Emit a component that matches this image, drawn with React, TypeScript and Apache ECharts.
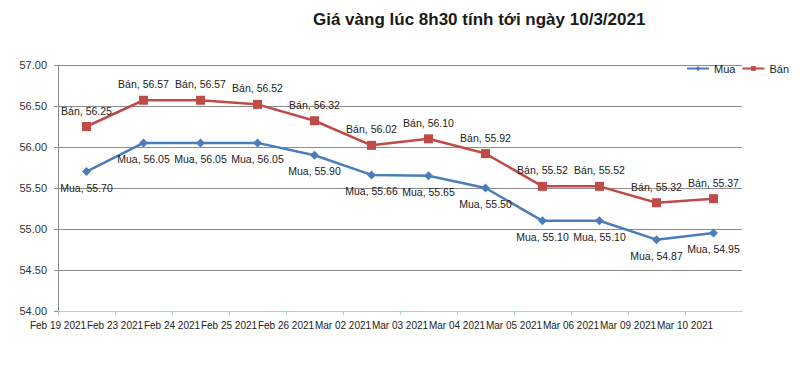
import React, { useEffect, useRef } from "react";
import * as echarts from "echarts";

const categories = [
  "Feb 19 2021", "Feb 23 2021", "Feb 24 2021", "Feb 25 2021", "Feb 26 2021", "Mar 02 2021",
  "Mar 03 2021", "Mar 04 2021", "Mar 05 2021", "Mar 06 2021", "Mar 09 2021", "Mar 10 2021",
];
const muaValues = [55.70, 56.05, 56.05, 56.05, 55.90, 55.66, 55.65, 55.50, 55.10, 55.10, 54.87, 54.95];
const banValues = [56.25, 56.57, 56.57, 56.52, 56.32, 56.02, 56.10, 55.92, 55.52, 55.52, 55.32, 55.37];
const yTicks = { min: 54, max: 57, interval: 0.5 };
const titleText = "Giá vàng lúc 8h30 tính tới ngày 10/3/2021";

const FONT = "Liberation Sans";

export default function App() {
  const ref = useRef<HTMLDivElement>(null);
  useEffect(() => {
    if (!ref.current) return;
    const chart = echarts.init(ref.current, undefined, { renderer: "svg" });
    const toPts = (arr: number[]) => arr.map((v, i) => [i + 0.5, v]);
    chart.setOption({
      animation: false,
      backgroundColor: "#ffffff",
      textStyle: { fontFamily: FONT },
      title: {
        text: titleText,
        left: 308,
        top: 6,
        textStyle: { fontFamily: FONT, fontSize: 17, fontWeight: "bold", color: "#1a1a1a" },
      },
      legend: {
        right: 6,
        top: 58,
        itemWidth: 22,
        itemHeight: 6,
        itemGap: 6,
        textStyle: { fontFamily: FONT, fontSize: 11, color: "#222" },
        data: ["Mua", "Bán"],
      },
      grid: { left: 58, right: 58, top: 65, bottom: 59 },
      xAxis: {
        type: "value",
        min: 0,
        max: categories.length,
        interval: 1,
        axisLine: { show: true, lineStyle: { color: "#9fd6df", width: 1 } },
        axisTick: { show: true, length: 4, lineStyle: { color: "#9fd6df" } },
        splitLine: { show: false },
        axisLabel: {
          margin: 9,
          fontFamily: FONT,
          fontSize: 10,
          color: "#222",
          showMinLabel: true,
          showMaxLabel: false,
          hideOverlap: false,
          formatter: (v: number) => categories[Math.round(v)] ?? "",
        },
      },
      yAxis: {
        type: "value",
        min: yTicks.min,
        max: yTicks.max,
        interval: yTicks.interval,
        axisLine: { show: true, lineStyle: { color: "#8c8c8c", width: 1 } },
        axisTick: { show: true, length: 4, lineStyle: { color: "#8c8c8c" } },
        splitLine: { show: true, lineStyle: { color: "#8c8c8c", width: 1 } },
        axisLabel: {
          margin: 11,
          fontFamily: FONT,
          fontSize: 11,
          color: "#333",
          formatter: (v: number) => v.toFixed(2),
        },
      },
      series: [
        {
          name: "Mua",
          type: "line",
          data: toPts(muaValues),
          symbol: "diamond",
          symbolSize: 9,
          color: "#4a7ebb",
          lineStyle: { width: 2.5, color: "#4a7ebb" },
          itemStyle: { color: "#4a7ebb" },
          label: {
            show: true,
            position: "bottom",
            distance: 6,
            fontFamily: FONT,
            fontSize: 10.5,
            color: "#222",
            formatter: (p: any) => `Mua, ${p.value[1].toFixed(2)}`,
          },
        },
        {
          name: "Bán",
          type: "line",
          data: toPts(banValues),
          symbol: "rect",
          symbolSize: 9,
          color: "#be4b48",
          lineStyle: { width: 2.5, color: "#be4b48" },
          itemStyle: { color: "#be4b48" },
          label: {
            show: true,
            position: "top",
            distance: 6,
            fontFamily: FONT,
            fontSize: 10.5,
            color: "#222",
            formatter: (p: any) => `Bán, ${p.value[1].toFixed(2)}`,
          },
        },
      ],
    });
    return () => chart.dispose();
  }, []);
  return (
    <div
      style={{
        position: "fixed",
        left: 0,
        top: 0,
        width: 800,
        height: 370,
        boxSizing: "border-box",
        border: "2px solid #8c8c8c",
        background: "#fff",
      }}
    >
      <div ref={ref} style={{ position: "absolute", left: -2, top: -2, width: 800, height: 370 }} />
    </div>
  );
}
